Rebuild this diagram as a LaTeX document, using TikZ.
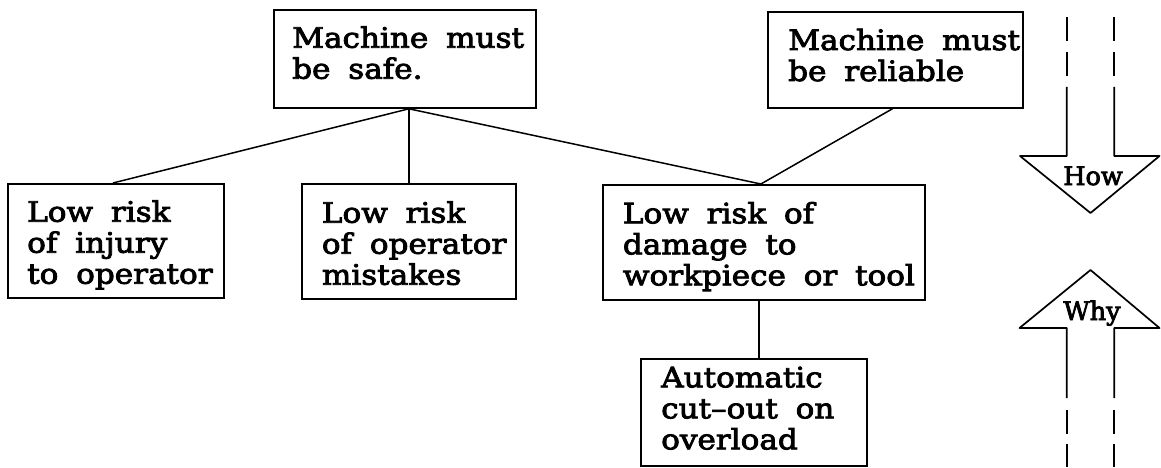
\documentclass[tikz,border=0pt]{standalone}
\usepackage{fontspec}
% wide slab-serif face for the box texts, plain one for the arrow labels
\newfontfamily\boxfont{DejaVu Serif}[FakeStretch=1.11,FakeBold=3,WordSpace=1.8]
\newfontfamily\arrowfont{DejaVu Serif}[FakeBold=3]
% stacked, left-aligned lines whose baseline is the first line's
\newcommand{\boxlines}[1]{\begin{tabular}[t]{@{}l@{}}#1\end{tabular}}
\begin{document}
\begin{tikzpicture}[x=1pt,y=-1pt,
  goalbox/.style={draw,line width=1.8pt,rectangle,inner sep=0pt,anchor=north west},
  goaltext/.style={anchor=base west,inner sep=0pt,
    font=\fontsize{28}{31}\selectfont\boxfont},
  link/.style={line width=1.5pt},
  dirlabel/.style={anchor=base,inner sep=0pt,
    font=\fontsize{25.5}{25.5}\selectfont\arrowfont},
  shaft/.style={line width=1.7pt,line join=round}]
\useasboundingbox (0,0) rectangle (1161,468);

% goal boxes
\node[goalbox,minimum width=262pt,minimum height=98pt]  (safe)     at (273,9)   {};
\node[goalbox,minimum width=255pt,minimum height=96pt]  (reliable) at (767,11)  {};
\node[goalbox,minimum width=216pt,minimum height=114pt] (injury)   at (7,183)   {};
\node[goalbox,minimum width=214pt,minimum height=115pt] (mistakes) at (301,183) {};
\node[goalbox,minimum width=322pt,minimum height=115pt] (damage)   at (602,184) {};
\node[goalbox,minimum width=226pt,minimum height=107pt] (cutout)   at (640,358) {};

% box texts
\node[goaltext] (safeT)     at ([xshift=19pt,yshift=-38.7pt]safe.north west)
  {\boxlines{Machine must\\be safe.}};
\node[goaltext] (reliableT) at ([xshift=21pt,yshift=-39pt]reliable.north west)
  {\boxlines{Machine must\\be reliable}};
\node[goaltext] (injuryT)   at ([xshift=20pt,yshift=-38.7pt]injury.north west)
  {\boxlines{Low risk\\of injury\\to operator}};
\node[goaltext] (mistakesT) at ([xshift=20.7pt,yshift=-39.7pt]mistakes.north west)
  {\boxlines{Low risk\\of operator\\mistakes}};
\node[goaltext] (damageT)   at ([xshift=20.7pt,yshift=-39.3pt]damage.north west)
  {\boxlines{Low risk of\\damage to\\workpiece or tool}};
\node[goaltext] (cutoutT)   at ([xshift=21pt,yshift=-29.3pt]cutout.north west)
  {\boxlines{Automatic\\cut–out on\\overload}};

% connectors
\draw[link] ([xshift=4pt]safe.south) -- ([xshift=-3pt]injury.north);
\draw[link] ([xshift=4pt]safe.south) -- (mistakes.north);
\draw[link] ([xshift=4pt]safe.south) -- ([xshift=-3pt]damage.north);
\draw[link] ([xshift=-3pt]reliable.south) -- ([xshift=-3pt]damage.north);
\draw[link] ([xshift=-5pt]damage.south) -- ([xshift=-5pt]damage.south |- cutout.north);

% "How" arrow pointing down
\draw[shaft,dash pattern=on 24.5pt off 10.5pt] (1066.7,17) -- (1066.7,87);
\draw[shaft,dash pattern=on 24.5pt off 10.5pt] (1114.3,17) -- (1114.3,87);
\draw[shaft] (1066.7,87) -- (1066.7,156) -- (1020,156) -- (1090.5,213)
  -- (1159.5,156) -- (1114.3,156) -- (1114.3,87);
\node[dirlabel] (how) at (1093,185) {How};

% "Why" arrow pointing up
\draw[shaft] (1066.7,398) -- (1066.7,328) -- (1019.5,328) -- (1090.5,270)
  -- (1159.5,328) -- (1114.3,328) -- (1114.3,398);
\draw[shaft,dash pattern=on 23.5pt off 10pt] (1066.7,410) -- (1066.7,470);
\draw[shaft,dash pattern=on 23.5pt off 10pt] (1114.3,410) -- (1114.3,470);
\node[dirlabel] (why) at (1092,320) {Why};
\end{tikzpicture}
\end{document}
